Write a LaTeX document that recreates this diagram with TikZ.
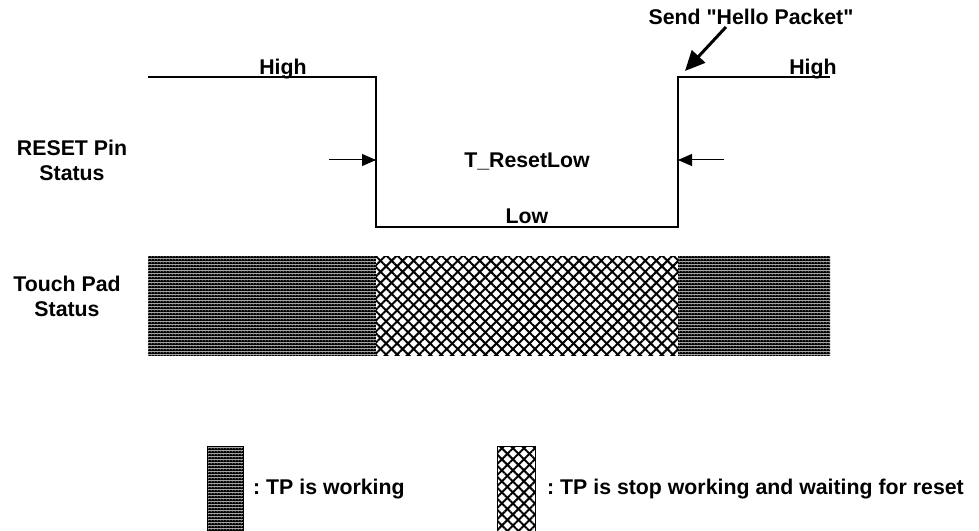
\documentclass[tikz,border=0pt]{standalone}
\usepackage{fontspec}
\setmainfont{Liberation Sans}
\usetikzlibrary{arrows.meta,patterns,patterns.meta}

% straight double quote, bypassing the TeX ligature mapping
\newcommand\straightdq{\XeTeXglyph\XeTeXcharglyph"22\relax}

% dark fill: black tile with a small light dot
\tikzdeclarepattern{
  name=tpdense,
  type=colored,
  bottom left={(0pt,0pt)},
  top right={(3bp,3bp)},
  tile size={(3bp,3bp)},
  code={
    \fill[black] (0pt,0pt) rectangle (3bp,3bp);
    \fill[white!60!gray] (1bp,1bp) rectangle (2bp,2bp);
  }
}

\begin{document}
\frenchspacing
\begin{tikzpicture}[x=1bp,y=-1bp,
  lbl/.style={font=\bfseries\fontsize{21.3bp}{25bp}\selectfont, inner sep=0pt},
  wave/.style={line width=1.2bp},
  gaparrow/.style={line width=1bp,-{Triangle[length=14bp,width=12bp]}},
  callout/.style={line width=3bp,-{Triangle[length=20bp,width=18bp]}},
  dense/.style={pattern=tpdense},
  hatch/.style={preaction={fill=white},
    pattern={Lines[angle=45,distance=7.8bp,line width=2bp]},
    postaction={pattern={Lines[angle=-45,distance=7.8bp,line width=2bp]}}}
]
\useasboundingbox (0,0) rectangle (979,531);

% RESET waveform
\coordinate (w0) at (148,77);
\coordinate (w1) at (376,77);
\coordinate (w2) at (376,227);
\coordinate (w3) at (678,227);
\coordinate (w4) at (678,77);
\coordinate (w5) at (830,77);
\draw[wave] (w0) -- (w1) -- (w2) -- (w3) -- (w4) -- (w5);

% T_ResetLow markers
\coordinate (gl) at (329,160);
\coordinate (gr) at (724,160);
\draw[gaparrow] (gl) -- (gl -| w1);
\draw[gaparrow] (gr) -- (gr -| w4);

% Hello packet callout
\node[lbl, anchor=base] (hello) at (751,25) {Send \straightdq Hello Packet\straightdq};
\coordinate (hs) at (726,27);
\coordinate (he) at (685,71);
\draw[callout] (hs) -- (he);

% waveform labels
\node[lbl, anchor=base] (hiL) at (283,75) {High};
\node[lbl, anchor=base] (hiR) at (813,75) {High};
\node[lbl, anchor=base] (trl) at (527,168) {T\_ResetLow};
\node[lbl, anchor=base] (low) at (527,224) {Low};
\node[lbl, align=center] (rst) at (72,160) {RESET Pin\\Status};
\node[lbl, align=center] (tps) at (67,296) {Touch Pad\\Status};

% touch pad status bar
\fill[dense] (148,257) rectangle (376,355);
\path[hatch] (376,257) rectangle (678,355);
\fill[dense] (678,257) rectangle (830,355);

% legend
\path[dense, draw=black, line width=0.6bp] (207,446) rectangle (243,531);
\path[hatch, draw=black, line width=0.6bp] (497,446) rectangle (535,531);
\node[lbl, anchor=base west] (lg1) at (253,494) {: TP is working};
\node[lbl, anchor=base west] (lg2) at (547,494) {: TP is stop working and waiting for reset};
\end{tikzpicture}
\end{document}
